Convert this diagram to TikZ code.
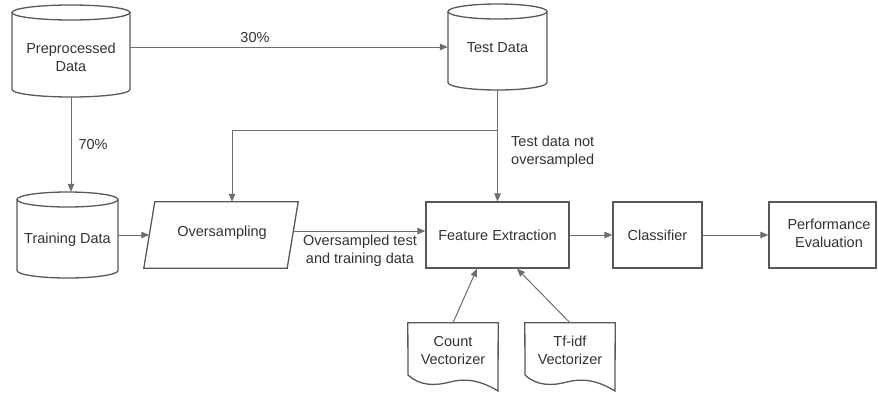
\documentclass[tikz,border=0pt]{standalone}
\usepackage{fontspec}
\setmainfont{Liberation Sans}
\usetikzlibrary{arrows.meta}
\definecolor{bord}{HTML}{595959}
\definecolor{lnk}{HTML}{6E6E6E}
\definecolor{txt}{HTML}{333333}
\begin{document}
\begin{tikzpicture}[x=1pt,y=-1pt,
  font=\fontsize{14.5}{18}\selectfont, text=txt,
  shp/.style={draw=bord, line width=1.3pt, fill=white},
  conn/.style={draw=lnk, line width=1pt, -{Triangle[length=8pt,width=6.5pt]}},
  lbl/.style={align=center, inner sep=0pt},
  area/.style={inner sep=0pt, minimum width=#1},
  boxn/.style={shp, inner sep=0pt, minimum height=66pt, align=center}]
\useasboundingbox (0,0) rectangle (878,394);

% ---- cylinders ----
\draw[shp] (12,12.5) -- (12,89.5) arc[start angle=180,end angle=0,x radius=59,y radius=7.5] -- (130,12.5);
\draw[shp] (71,12.5) ellipse[x radius=59,y radius=7.5];
\node[area=118pt, minimum height=92pt] (pre) at (71,51) {};
\node[lbl] (pret) at (71,57) {Preprocessed\\Data};

\draw[shp] (448,11.5) -- (448,82.5) arc[start angle=180,end angle=0,x radius=49.5,y radius=7.5] -- (547,11.5);
\draw[shp] (497.5,11.5) ellipse[x radius=49.5,y radius=7.5];
\node[area=99pt, minimum height=86pt] (test) at (497.5,47) {};
\node[lbl] (testt) at (497.5,48) {Test Data};

\draw[shp] (17,199.5) -- (17,270.5) arc[start angle=180,end angle=0,x radius=50.5,y radius=7.5] -- (118,199.5);
\draw[shp] (67.5,199.5) ellipse[x radius=50.5,y radius=7.5];
\node[area=101pt, minimum height=86pt] (train) at (67.5,235) {};
\node[lbl] (traint) at (67.5,240) {Training Data};

% ---- parallelogram ----
\node[area=154pt, minimum height=66pt] (over) at (221,235) {};
\draw[shp] ([xshift=11pt]over.north west) -- (over.north east) -- ([xshift=-11pt]over.south east) -- (over.south west) -- cycle;
\node[lbl] (overt) at (222,233) {Oversampling};

% ---- boxes ----
\node[boxn, minimum width=143pt] (fe) at (497.5,235) {Feature Extraction};
\node[boxn, minimum width=89pt] (cls) at (657.5,235) {Classifier};
\node[boxn, minimum width=107pt] (pe) at (822.5,235) {};
\node[lbl] (pet) at (829,233) {Performance\\Evaluation};

% ---- documents ----
\node[area=90pt, minimum height=52pt] (cnt) at (453,349) {};
\draw[shp] (cnt.north west) -- (cnt.north east) -- (498,391) .. controls (480,380) and (465,378) .. (450,382) .. controls (435,386) and (420,386) .. (408,375) -- cycle;
\node[lbl] (cntt) at (453,350.5) {Count\\Vectorizer};

\node[area=90pt, minimum height=52pt] (tfi) at (570,349) {};
\draw[shp] (tfi.north west) -- (tfi.north east) -- (615,391) .. controls (597,380) and (582,378) .. (567,382) .. controls (552,386) and (537,386) .. (525,375) -- cycle;
\node[lbl] (tfit) at (570,350.5) {Tf-idf\\Vectorizer};

% ---- connectors ----
\draw[conn] (pre.east |- test.west) -- (test.west) node[lbl, midway, above=4pt, xshift=-34pt] (l30) {30\%};
\draw[conn] (pre.south) -- (pre.south |- train.north) node[lbl, midway, right=7pt] (l70) {70\%};
\draw[conn] (train.east) -- ([xshift=5.5pt]over.west);
\draw[conn] (test.south) -- (fe.north);
\coordinate (br) at (test.south |- 0,130);
\draw[conn] (br) -| ([xshift=11pt]over.north);
\node[lbl, align=left, anchor=west] (tdn) at (511,152) {Test data not\\oversampled};
\draw[conn] ([xshift=-5pt,yshift=4pt]over.east) coordinate (o1) -- (o1 -| fe.west);
\node[lbl] (ostd) at (360,251) {Oversampled test\\and training data};
\draw[conn] (fe.east) -- (cls.west);
\draw[conn] (cls.east) -- (pe.west);
\draw[conn] (cnt.north) -- ([xshift=-20.5pt]fe.south);
\draw[conn] (tfi.north) -- ([xshift=19.5pt]fe.south);
\end{tikzpicture}
\end{document}
